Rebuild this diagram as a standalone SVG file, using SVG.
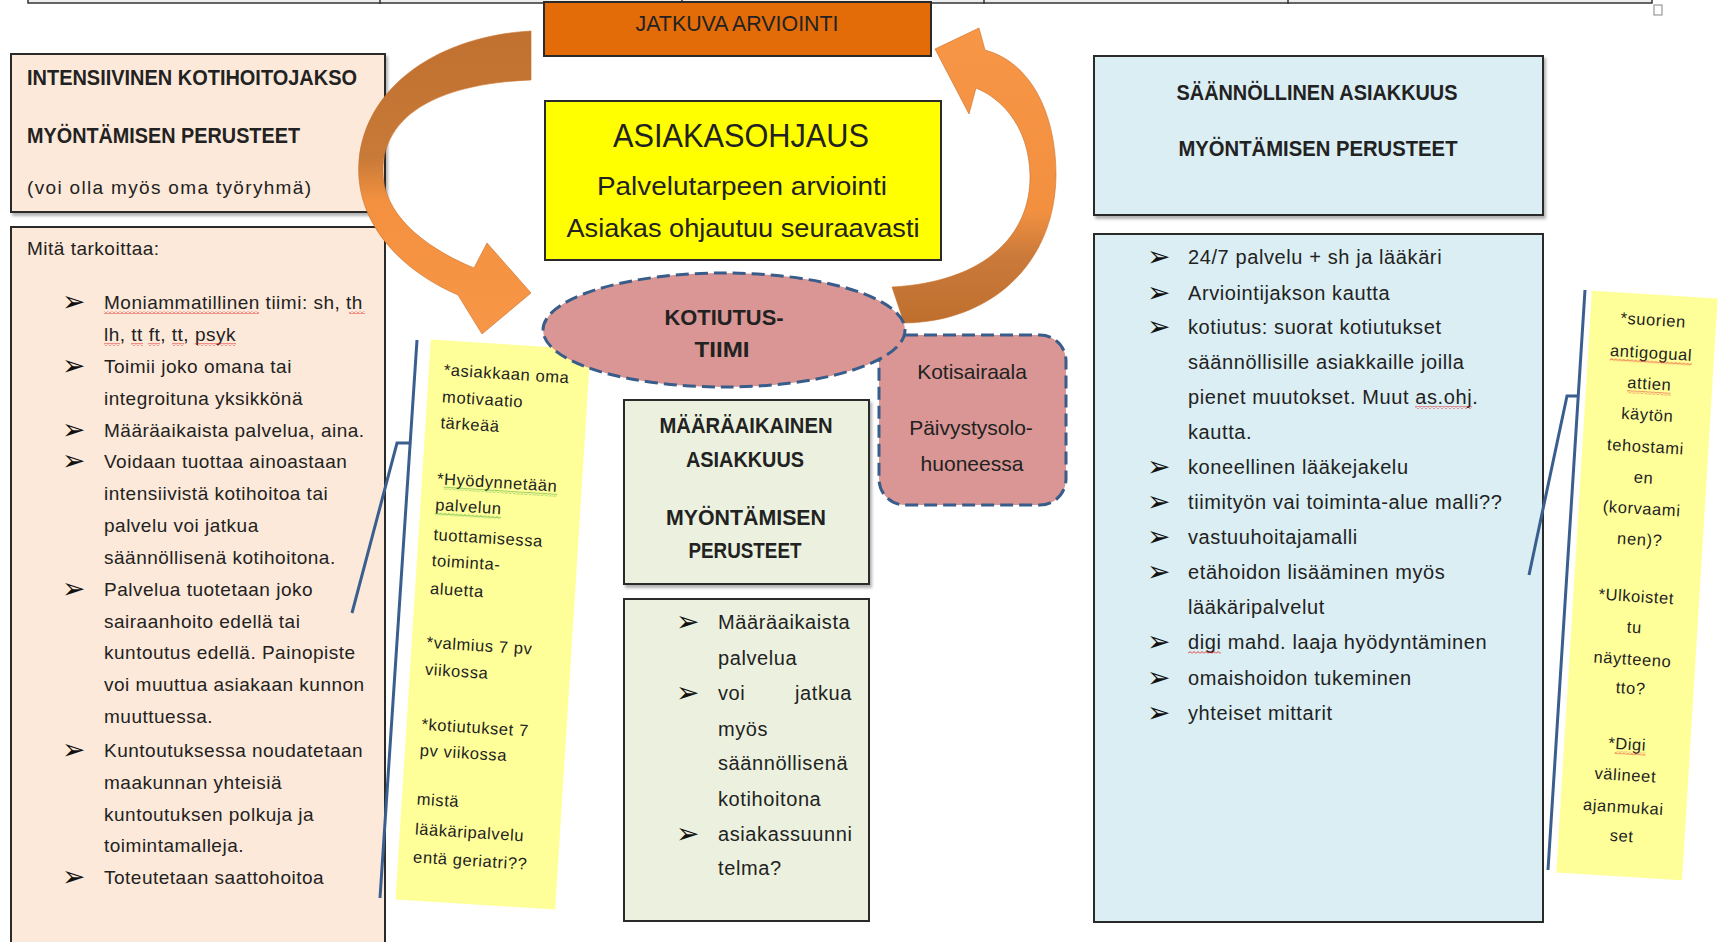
<svg xmlns="http://www.w3.org/2000/svg" width="1719" height="942" viewBox="0 0 1719 942">
<defs>
<style>
.t{font-family:"Liberation Sans",Arial,sans-serif;fill:#222}
.hb{font-weight:bold;font-size:22px}
.b19{font-size:19px;letter-spacing:0.5px}
.b20{font-size:20px;letter-spacing:0.6px}
.nt{font-size:16.5px;letter-spacing:0.6px}
.bul{font-family:"DejaVu Sans",sans-serif;font-size:28px;fill:#111}
.box{stroke:#2a2a2a;stroke-width:2}
.dash{stroke:#385D8A;stroke-width:3;stroke-dasharray:13 6}
.brk{fill:none;stroke:#3A5F8F;stroke-width:3}
.arr{stroke:#C8702C;stroke-width:1;stroke-opacity:0.6}
</style>
<filter id="sh" x="-5%" y="-5%" width="115%" height="115%"><feDropShadow dx="2" dy="3" stdDeviation="1.5" flood-color="#000" flood-opacity="0.3"/></filter>
<pattern id="wr" width="4" height="3" patternUnits="userSpaceOnUse"><path d="M0 2.5 L2 0.5 L4 2.5" fill="none" stroke="#E02020" stroke-width="0.9"/></pattern>
<pattern id="wg" width="4" height="3" patternUnits="userSpaceOnUse"><path d="M0 2.5 L2 0.5 L4 2.5" fill="none" stroke="#2E9A2E" stroke-width="0.9"/></pattern>
<linearGradient id="gL" gradientUnits="userSpaceOnUse" x1="0" y1="30" x2="0" y2="335"><stop offset="0" stop-color="#C0702F"/><stop offset="0.42" stop-color="#C87A38"/><stop offset="0.56" stop-color="#F39140"/><stop offset="1" stop-color="#F79646"/></linearGradient>
<linearGradient id="gR" gradientUnits="userSpaceOnUse" x1="0" y1="28" x2="0" y2="323"><stop offset="0" stop-color="#F79646"/><stop offset="0.62" stop-color="#F29040"/><stop offset="0.78" stop-color="#C9793A"/><stop offset="1" stop-color="#BF6F2D"/></linearGradient>
</defs>
<rect width="1719" height="942" fill="#fff"/>

<g id="table-edge">
<rect x="28" y="-2" width="1624" height="5" fill="#EEEEEE" stroke="#333" stroke-width="1.5"/>
<path d="M380 0V4M682 0V4M984 0V4M1288 0V4" stroke="#333" stroke-width="1.5"/>
<rect x="1654" y="5" width="8" height="10" fill="#fff" stroke="#999" stroke-width="1.2"/>
</g>

<g id="node-intensiivinen-header">
<rect x="11" y="54" width="374" height="158" fill="#FDE9D9" class="box" filter="url(#sh)"/>
<text class="t hb" x="27" y="85" textLength="330" lengthAdjust="spacingAndGlyphs">INTENSIIVINEN KOTIHOITOJAKSO</text>
<text class="t hb" x="27" y="143" textLength="273" lengthAdjust="spacingAndGlyphs">MYÖNTÄMISEN PERUSTEET</text>
<text class="t" x="27" y="194" font-size="19" textLength="284" lengthAdjust="spacing">(voi olla myös oma työryhmä)</text>
</g>

<g id="node-intensiivinen-body">
<rect x="11" y="227" width="374" height="725" fill="#FDE9D9" class="box"/>
<text class="t b19" x="27" y="255" letter-spacing="0.2">Mitä tarkoittaa:</text>
<g class="bul">
<text x="62" y="311">➢</text><text x="62" y="375">➢</text><text x="62" y="439">➢</text><text x="62" y="470">➢</text><text x="62" y="598">➢</text><text x="62" y="759">➢</text><text x="62" y="886">➢</text>
</g>
<g class="t b19">
<text x="104" y="309">Moniammatillinen tiimi: sh, th</text>
<text x="104" y="341">lh, tt ft, tt, psyk</text>
<text x="104" y="373">Toimii joko omana tai</text>
<text x="104" y="405">integroituna yksikkönä</text>
<text x="104" y="437">Määräaikaista palvelua, aina.</text>
<text x="104" y="468">Voidaan tuottaa ainoastaan</text>
<text x="104" y="500">intensiivistä kotihoitoa tai</text>
<text x="104" y="532">palvelu voi jatkua</text>
<text x="104" y="564">säännöllisenä kotihoitona.</text>
<text x="104" y="596">Palvelua tuotetaan joko</text>
<text x="104" y="628">sairaanhoito edellä tai</text>
<text x="104" y="659">kuntoutus edellä. Painopiste</text>
<text x="104" y="691">voi muuttua asiakaan kunnon</text>
<text x="104" y="723">muuttuessa.</text>
<text x="104" y="757">Kuntoutuksessa noudatetaan</text>
<text x="104" y="789">maakunnan yhteisiä</text>
<text x="104" y="821">kuntoutuksen polkuja ja</text>
<text x="104" y="852">toimintamalleja.</text>
<text x="104" y="884">Toteutetaan saattohoitoa</text>
</g>
<g fill="url(#wr)">
<rect x="104" y="311" width="155" height="3"/><rect x="349" y="311" width="16" height="3"/>
<rect x="104" y="343" width="16" height="3"/><rect x="131" y="343" width="12" height="3"/><rect x="148" y="343" width="12" height="3"/><rect x="172" y="343" width="12" height="3"/><rect x="195" y="343" width="41" height="3"/>
</g>
</g>

<g id="node-jatkuva">
<rect x="544" y="2" width="387" height="54" fill="#E36C09" class="box"/>
<text class="t" x="737" y="31" font-size="22" text-anchor="middle" textLength="203" lengthAdjust="spacingAndGlyphs">JATKUVA ARVIOINTI</text>
</g>

<g id="node-asiakasohjaus">
<rect x="545" y="101" width="396" height="159" fill="#FFFF00" class="box"/>
<text class="t" x="741" y="147" font-size="34" text-anchor="middle" textLength="256" lengthAdjust="spacingAndGlyphs">ASIAKASOHJAUS</text>
<text class="t" x="742" y="195" font-size="26" text-anchor="middle" textLength="290" lengthAdjust="spacingAndGlyphs">Palvelutarpeen arviointi</text>
<text class="t" x="743" y="237" font-size="26" text-anchor="middle" textLength="353" lengthAdjust="spacingAndGlyphs">Asiakas ohjautuu seuraavasti</text>
</g>

<g id="node-maaraaikainen-header">
<rect x="624" y="400" width="245" height="184" fill="#EBF1DE" class="box" filter="url(#sh)"/>
<g class="t hb" text-anchor="middle">
<text x="746" y="433" textLength="173" lengthAdjust="spacingAndGlyphs">MÄÄRÄAIKAINEN</text>
<text x="745" y="467" textLength="118" lengthAdjust="spacingAndGlyphs">ASIAKKUUS</text>
<text x="746" y="525" textLength="160" lengthAdjust="spacingAndGlyphs">MYÖNTÄMISEN</text>
<text x="745" y="558" textLength="113" lengthAdjust="spacingAndGlyphs">PERUSTEET</text>
</g>
</g>

<g id="node-maaraaikainen-body">
<rect x="624" y="599" width="245" height="322" fill="#EBF1DE" class="box"/>
<g class="bul"><text x="676" y="631">➢</text><text x="676" y="702">➢</text><text x="676" y="843">➢</text></g>
<g class="t b20">
<text x="718" y="629">Määräaikaista</text>
<text x="718" y="665">palvelua</text>
<text x="718" y="700">voi</text><text x="852" y="700" text-anchor="end">jatkua</text>
<text x="718" y="736">myös</text>
<text x="718" y="770">säännöllisenä</text>
<text x="718" y="806">kotihoitona</text>
<text x="718" y="841">asiakassuunni</text>
<text x="718" y="875">telma?</text>
</g>
</g>

<g id="node-saannollinen-header">
<rect x="1094" y="56" width="449" height="159" fill="#DAEEF3" class="box" filter="url(#sh)"/>
<text class="t hb" x="1317" y="100" text-anchor="middle" textLength="281" lengthAdjust="spacingAndGlyphs">SÄÄNNÖLLINEN ASIAKKUUS</text>
<text class="t hb" x="1318" y="156" text-anchor="middle" textLength="279" lengthAdjust="spacingAndGlyphs">MYÖNTÄMISEN PERUSTEET</text>
</g>

<g id="node-saannollinen-body">
<rect x="1094" y="234" width="449" height="688" fill="#DAEEF3" class="box"/>
<g class="bul">
<text x="1147" y="266">➢</text><text x="1147" y="302">➢</text><text x="1147" y="336">➢</text><text x="1147" y="476">➢</text><text x="1147" y="511">➢</text><text x="1147" y="546">➢</text><text x="1147" y="581">➢</text><text x="1147" y="651">➢</text><text x="1147" y="687">➢</text><text x="1147" y="722">➢</text>
</g>
<g class="t b20">
<text x="1188" y="264">24/7 palvelu + sh ja lääkäri</text>
<text x="1188" y="300">Arviointijakson kautta</text>
<text x="1188" y="334">kotiutus: suorat kotiutukset</text>
<text x="1188" y="369">säännöllisille asiakkaille joilla</text>
<text x="1188" y="404">pienet muutokset. Muut as.ohj.</text>
<text x="1188" y="439">kautta.</text>
<text x="1188" y="474">koneellinen lääkejakelu</text>
<text x="1188" y="509">tiimityön vai toiminta-alue malli??</text>
<text x="1188" y="544">vastuuhoitajamalli</text>
<text x="1188" y="579">etähoidon lisääminen myös</text>
<text x="1188" y="614">lääkäripalvelut</text>
<text x="1188" y="649">digi mahd. laaja hyödyntäminen</text>
<text x="1188" y="685">omaishoidon tukeminen</text>
<text x="1188" y="720">yhteiset mittarit</text>
</g>
<g fill="url(#wr)"><rect x="1415" y="406" width="57" height="3"/><rect x="1188" y="651" width="33" height="3"/></g>
</g>

<g id="connectors">
<path id="arrow-left" class="arr" fill="url(#gL)" d="M531 31 C440 36 366 85 359 160 C354 222 400 270 458 295 L482 334 L531 293 L487 243 L474 268 C421 246 382 212 383 170 C384 118 432 84 531 80 Z"/>
<path id="arrow-right" class="arr" fill="url(#gR)" d="M892 287 C985 282 1031 235 1030 175 C1029 130 1005 100 976 88 L969 114 L935 49 L979 28 L985 50 C1030 62 1056 112 1056 175 C1055 265 990 322 904 323 Z"/>
<path id="bracket-left" class="brk" d="M417 340 L380 898 M410 443 L397 443 L352 613"/>
<path id="bracket-right" class="brk" d="M1585 290 L1548 870 M1578 396 L1567 396 L1529 575"/>
</g>

<g id="note-left" transform="rotate(3.6 493 624)">
<rect x="413" y="344" width="160" height="561" fill="#FFFF99"/>
<g class="t nt">
<text x="428" y="379">*asiakkaan oma</text>
<text x="428" y="406">motivaatio</text>
<text x="428" y="432">tärkeää</text>
<text x="428" y="488">*Hyödynnetään</text>
<text x="428" y="514">palvelun</text>
<text x="428" y="544">tuottamisessa</text>
<text x="428" y="570">toiminta-</text>
<text x="428" y="598">aluetta</text>
<text x="428" y="652">*valmius 7 pv</text>
<text x="428" y="679">viikossa</text>
<text x="428" y="734">*kotiutukset 7</text>
<text x="428" y="760">pv viikossa</text>
<text x="428" y="809">mistä</text>
<text x="428" y="839">lääkäripalvelu</text>
<text x="428" y="867">entä geriatri??</text>
</g>
<g fill="url(#wg)"><rect x="435" y="490" width="114" height="3"/><rect x="428" y="516" width="66" height="3"/></g>
</g>

<g id="note-right" transform="rotate(3.5 1637 585)">
<rect x="1574" y="294" width="126" height="583" fill="#FFFF99"/>
<g class="t nt" text-anchor="middle">
<text x="1637" y="325">*suorien</text>
<text x="1637" y="358">antigogual</text>
<text x="1637" y="389">attien</text>
<text x="1637" y="420">käytön</text>
<text x="1637" y="452">tehostami</text>
<text x="1637" y="483">en</text>
<text x="1637" y="514">(korvaami</text>
<text x="1637" y="545">nen)?</text>
<text x="1637" y="602">*Ulkoistet</text>
<text x="1637" y="633">tu</text>
<text x="1637" y="665">näytteeno</text>
<text x="1637" y="694">tto?</text>
<text x="1637" y="750">*Digi</text>
<text x="1637" y="781">välineet</text>
<text x="1637" y="813">ajanmukai</text>
<text x="1637" y="842">set</text>
</g>
<g fill="url(#wr)"><rect x="1596" y="360" width="82" height="3"/><rect x="1615" y="391" width="44" height="3"/><rect x="1625" y="752" width="31" height="3"/></g>
</g>

<g id="node-kotisairaala">
<rect x="879" y="335" width="187" height="170" rx="26" fill="#D99694" class="dash"/>
<g class="t" font-size="21" text-anchor="middle">
<text x="972" y="379">Kotisairaala</text>
<text x="971" y="435">Päivystysolo-</text>
<text x="972" y="471">huoneessa</text>
</g>
</g>

<g id="node-kotiutus">
<ellipse cx="724" cy="330" rx="181" ry="57" fill="#D99694" class="dash"/>
<text class="t hb" x="724" y="325" text-anchor="middle" textLength="119" lengthAdjust="spacingAndGlyphs">KOTIUTUS-</text>
<text class="t hb" x="722" y="357" text-anchor="middle" textLength="55" lengthAdjust="spacingAndGlyphs">TIIMI</text>
</g>
</svg>
